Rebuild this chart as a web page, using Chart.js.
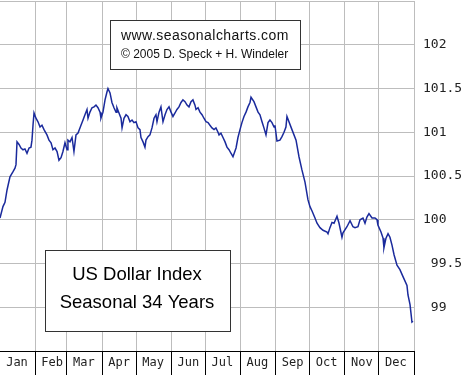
<!DOCTYPE html>
<html>
<head>
<meta charset="utf-8">
<script src="https://cdn.jsdelivr.net/npm/chart.js@4.4.1/dist/chart.umd.min.js"></script>
<style>
  body { margin: 0; background: #fff; }
</style>
</head>
<body>
<canvas id="seasonChart" width="474" height="375"></canvas>
<script>
// day of year (0..365) and seasonal index value
const days = [0, 2.6, 4.4, 6.2, 8.8, 11.5, 13.2, 14.1, 15.0, 16.8, 18.5, 20.3, 22.0, 23.8, 25.6, 27.3, 28.2, 29.1, 30.0, 31.7,
  33.5, 35.3, 37.0, 38.8, 41.4, 43.2, 45.0, 46.7, 48.5, 50.3, 52.0, 53.8, 55.5, 57.3, 59.1, 59.9, 61.7, 63.5, 65.2, 67.0,
  68.8, 71.4, 73.2, 74.9, 76.7, 77.6, 79.3, 81.1, 82.9, 84.6, 86.4, 88.2, 89.0, 90.8, 92.6, 94.3, 95.2, 97.0, 98.7, 100.5,
  102.3, 103.1, 104.9, 106.7, 107.6, 109.3, 111.1, 112.8, 114.6, 116.4, 118.1, 119.9, 121.7, 123.4, 124.3, 126.1, 127.8, 128.7, 130.5, 132.2,
  134.0, 135.8, 137.5, 138.4, 140.2, 141.9, 143.7, 145.5, 147.2, 149.0, 150.8, 152.5, 154.3, 156.0, 157.8, 159.6, 161.3, 163.1, 164.9, 166.6,
  168.4, 170.1, 171.9, 172.8, 174.6, 176.3, 178.1, 179.8, 181.6, 183.4, 185.1, 186.9, 188.7, 190.4, 192.2, 193.1, 194.8, 196.6, 198.4, 200.1,
  201.9, 203.6, 205.4, 208.1, 209.8, 211.6, 213.3, 215.1, 216.9, 218.6, 220.4, 221.3, 223.9, 225.7, 227.5, 229.2, 231.0, 232.7, 234.5, 236.3,
  238.0, 239.8, 241.6, 242.4, 244.2, 246.8, 248.6, 250.4, 252.1, 253.0, 257.4, 261.0, 263.6, 266.2, 268.9, 271.5, 273.3, 275.1, 277.7, 279.5,
  282.1, 284.8, 288.3, 289.2, 290.9, 292.7, 294.5, 297.1, 298.9, 301.5, 302.4, 305.9, 308.6, 311.2, 313.0, 315.6, 317.4, 320.0, 321.8, 323.5,
  325.3, 328.0, 330.6, 332.4, 333.2, 335.9, 337.7, 338.5, 340.3, 342.1, 343.8, 345.6, 347.4, 350.0, 352.6, 355.3, 358.8, 359.7, 361.5, 363.2, 364.1];

const usdIndex = [100.02, 100.15, 100.20, 100.34, 100.49, 100.55, 100.59, 100.63, 100.89, 100.86, 100.82, 100.80, 100.81, 100.76, 100.82, 100.83, 100.91, 101.08, 101.22, 101.16,
  101.12, 101.06, 101.08, 101.03, 100.97, 100.91, 100.88, 100.80, 100.82, 100.78, 100.68, 100.71, 100.78, 100.88, 100.80, 100.91, 100.89, 100.94, 100.78, 100.97,
  100.99, 101.08, 101.14, 101.20, 101.26, 101.16, 101.23, 101.28, 101.29, 101.31, 101.28, 101.23, 101.16, 101.23, 101.37, 101.46, 101.50, 101.45, 101.34, 101.28,
  101.23, 101.28, 101.22, 101.16, 101.05, 101.16, 101.20, 101.18, 101.12, 101.14, 101.11, 101.12, 101.05, 101.03, 100.94, 100.89, 100.83, 100.91, 100.95, 100.97,
  101.05, 101.16, 101.20, 101.12, 101.23, 101.29, 101.12, 101.20, 101.26, 101.29, 101.23, 101.18, 101.22, 101.26, 101.29, 101.34, 101.37, 101.35, 101.31, 101.29,
  101.35, 101.37, 101.31, 101.26, 101.28, 101.23, 101.20, 101.16, 101.12, 101.11, 101.08, 101.05, 101.03, 101.05, 101.00, 100.97, 100.99, 100.94, 100.89, 100.83,
  100.80, 100.76, 100.72, 100.82, 100.94, 101.03, 101.11, 101.18, 101.23, 101.29, 101.34, 101.40, 101.35, 101.29, 101.23, 101.20, 101.12, 101.05, 100.97, 101.11,
  101.14, 101.11, 101.06, 101.08, 100.90, 100.91, 100.95, 101.00, 101.06, 101.18, 101.03, 100.91, 100.72, 100.57, 100.43, 100.23, 100.15, 100.10, 100.02, 99.96,
  99.91, 99.88, 99.86, 99.84, 99.91, 99.97, 99.96, 100.04, 99.96, 99.80, 99.85, 99.92, 99.99, 99.92, 99.91, 99.92, 100.00, 100.02, 99.96, 100.03,
  100.07, 100.02, 100.02, 100.00, 99.94, 99.86, 99.79, 99.68, 99.79, 99.84, 99.80, 99.71, 99.60, 99.48, 99.43, 99.35, 99.25, 99.14, 99.03, 98.83, 98.84];

const months = ['Jan', 'Feb', 'Mar', 'Apr', 'May', 'Jun', 'Jul', 'Aug', 'Sep', 'Oct', 'Nov', 'Dec', ''];
const monthStarts = [0, 31, 59, 90, 120, 151, 181, 212, 243, 273, 304, 334, 365];
const yTicks = [99, 99.5, 100, 100.5, 101, 101.5, 102];

const gridGray = '#bdbdbd';

// text boxes drawn on top of the plot
const boxes = {
  id: 'boxes',
  afterDraw(chart) {
    const c = chart.ctx;
    c.save();
    c.fillStyle = '#fff';
    c.strokeStyle = '#333';
    c.lineWidth = 1;
    c.fillRect(110.5, 20.5, 190, 49);
    c.strokeRect(110.5, 20.5, 190, 49);
    c.fillRect(45.5, 250.5, 185, 81);
    c.strokeRect(45.5, 250.5, 185, 81);

    c.fillStyle = '#111';
    c.textBaseline = 'alphabetic';
    c.textAlign = 'left';
    c.font = '14px "Liberation Sans", Arial, sans-serif';
    c.letterSpacing = '0.45px';
    c.fillText('www.seasonalcharts.com', 121, 40);
    c.letterSpacing = '0px';
    c.font = '12px "Liberation Sans", Arial, sans-serif';
    c.fillText('\u00a9 2005 D. Speck + H. Windeler', 121, 58);

    c.fillStyle = '#000';
    c.textAlign = 'center';
    c.font = '18.5px "Liberation Sans", Arial, sans-serif';
    c.fillText('US Dollar Index', 137, 280);
    c.fillText('Seasonal 34 Years', 137, 308);
    c.restore();
  }
};

new Chart(document.getElementById('seasonChart'), {
  type: 'line',
  data: {
    datasets: [{
      data: days.map((d, i) => ({ x: d, y: usdIndex[i] })),
      borderColor: '#1a2a9c',
      borderWidth: 1.5,
      pointRadius: 0,
      tension: 0,
      fill: false
    }]
  },
  options: {
    responsive: false,
    animation: false,
    layout: { padding: { top: 1, left: 0, right: 0, bottom: 0 } },
    plugins: { legend: { display: false }, tooltip: { enabled: false } },
    scales: {
      x: {
        type: 'linear',
        min: 0,
        max: 365,
        afterBuildTicks(scale) {
          scale.ticks = monthStarts.map(v => ({ value: v }));
        },
        afterFit(scale) {
          scale.height = 24;
          scale.paddingLeft = 0;
          scale.paddingRight = 0;
        },
        ticks: {
          autoSkip: false,
          maxRotation: 0,
          labelOffset: 17,
          padding: -19,
          color: '#222',
          font: { family: '"DejaVu Sans Mono", monospace', size: 12 },
          callback: (v, i) => months[i]
        },
        grid: {
          color: ctx => (ctx.index === 0 ? 'rgba(0,0,0,0)' : gridGray),
          lineWidth: 1,
          drawTicks: true,
          tickLength: 24,
          tickColor: ctx => (ctx.index === 0 ? 'rgba(0,0,0,0)' : '#000')
        },
        border: { display: true, color: '#000', width: 1 }
      },
      y: {
        position: 'right',
        min: 98.5,
        max: 102.5,
        afterBuildTicks(scale) {
          scale.ticks = [98.5].concat(yTicks, [102.5]).map(v => ({ value: v }));
        },
        afterFit(scale) {
          scale.width = 60;
          scale.paddingTop = 0;
          scale.paddingBottom = 0;
        },
        ticks: {
          padding: 9,
          color: '#222',
          font: { family: '"DejaVu Sans Mono", monospace', size: 13 },
          callback: v => {
            if (!yTicks.includes(v)) return '';
            const s = String(v);
            return v < 100 ? ' ' + s : s;
          }
        },
        grid: {
          color: gridGray,
          lineWidth: 1,
          drawTicks: false
        },
        border: { display: false }
      }
    }
  },
  plugins: [boxes]
});
</script>
</body>
</html>
